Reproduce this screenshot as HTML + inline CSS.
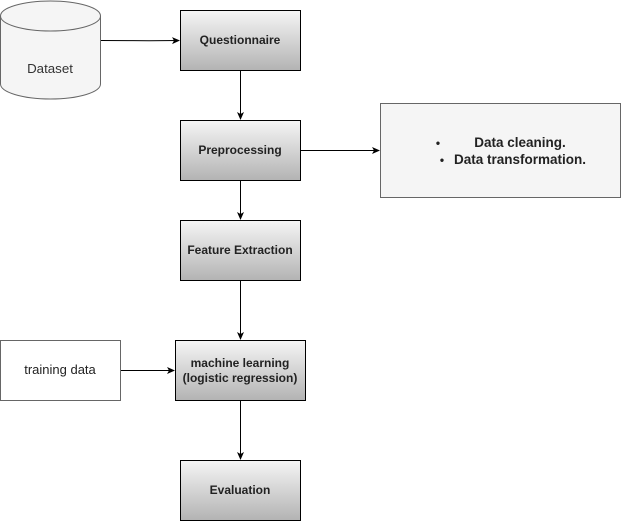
<!DOCTYPE html>
<html><head><style>body{margin:0;background:#fff}</style></head><body>
<svg width="621" height="521" xmlns="http://www.w3.org/2000/svg" font-family="Liberation Sans, sans-serif" font-size="12" font-weight="bold">
<defs>
<linearGradient id="g" x1="0" y1="0" x2="0" y2="1"><stop offset="0" stop-color="#f5f5f5"/><stop offset="1" stop-color="#b3b3b3"/></linearGradient>
<marker id="a" markerWidth="8" markerHeight="8" refX="7" refY="4" orient="auto" markerUnits="userSpaceOnUse"><path d="M0,0.5 L8,4 L0,7.5 L2,4 z" fill="#000"/></marker>
</defs>
<g stroke="#666" fill="#f5f5f5">
<path d="M0.5,16 A50,15 0 0 1 100.5,16 V84 A50,15 0 0 1 0.5,84 Z"/>
<path d="M0.5,16 A50,15 0 0 0 100.5,16" fill="none"/>
</g>
<text x="50" y="73" text-anchor="middle" font-weight="normal" font-size="13.3" fill="#333">Dataset</text>
<g stroke="#000" fill="url(#g)">
<rect x="180.5" y="10.5" width="120" height="60"/>
<rect x="180.5" y="120.5" width="120" height="60"/>
<rect x="180.5" y="220.5" width="120" height="60"/>
<rect x="175.5" y="340.5" width="130" height="60"/>
<rect x="180.5" y="460.5" width="120" height="60"/>
</g>
<rect x="0.5" y="340.5" width="120" height="60" fill="#fff" stroke="#666"/>
<rect x="380.5" y="103.5" width="240" height="94" fill="#f5f5f5" stroke="#666"/>
<g fill="#222" text-anchor="middle">
<text x="240" y="44">Questionnaire</text>
<text x="240" y="154">Preprocessing</text>
<text x="240" y="254">Feature Extraction</text>
<text x="240" y="367">machine learning</text>
<text x="240" y="382">(logistic regression)</text>
<text x="240" y="494">Evaluation</text>
<text x="60" y="374" font-weight="normal" font-size="13">training data</text>
<text x="520" y="147" font-size="13.5">Data cleaning.</text>
<text x="520" y="164" font-size="13.5">Data transformation.</text>
<text x="438" y="147">•</text>
<text x="442" y="164">•</text>
</g>
<g stroke="#000" fill="none" marker-end="url(#a)">
<path d="M101,40.5 C140,40.5 140,41 179,40.5"/>
<path d="M240.5,71 V119"/>
<path d="M240.5,181 V219"/>
<path d="M301,150.5 H379"/>
<path d="M240.5,281 V339"/>
<path d="M121,370.5 H174"/>
<path d="M240.5,401 V459"/>
</g>
</svg>
</body></html>
